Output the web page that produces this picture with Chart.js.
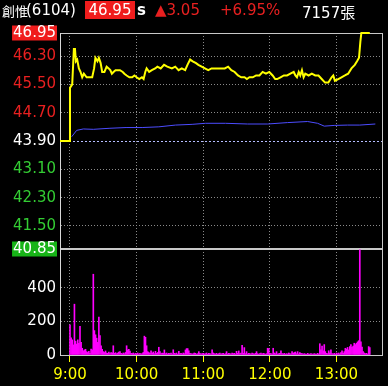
<!DOCTYPE html>
<html>
<head>
<meta charset="utf-8">
<script src="https://cdn.jsdelivr.net/npm/chart.js@4"></script>
<style>
    html, body { margin: 0; padding: 0; background: #000; }
    #wrap { position: relative; width: 388px; height: 386px; overflow: hidden; }
    #c { position: absolute; left: 0; top: 0; }
    #head span {
        position: absolute; top: 1px; height: 18px; line-height: 18px;
        font: 15px "DejaVu Sans", "Noto Sans CJK TC", sans-serif;
        white-space: nowrap; color: #fff;
    }
    #head .cjk { font-family: "Noto Sans CJK TC", sans-serif; font-size: 13px; }
    #head .box { background: #f01c1c; width: 50px; text-align: center; }
    #head .red { color: #e82020; }
</style>
</head>
<body>
<div id="wrap">
    <canvas id="c" width="388" height="386"></canvas>
    <div id="head">
        <span class="cjk" style="left:2px">創惟</span>
        <span style="left:26px">(6104)</span>
        <span class="box" style="left:85px">46.95</span>
        <span style="left:137px;font-weight:bold">s</span>
        <span class="red" style="left:155px">▲3.05</span>
        <span class="red" style="left:220px">+6.95%</span>
        <span style="left:302px">7157張</span>
    </div>
</div>
<script>
// ejes
const priceTicks = [46.95, 46.30, 45.50, 44.70, 43.90, 43.10, 42.30, 41.50, 40.85];
const volumeTicks = [0, 200, 400];
const hourTicks = [0, 60, 120, 180, 240];
const hourLabels = ['9:00', '10:00', '11:00', '12:00', '13:00'];
const prevClose = 43.90;

// precio (minutos desde las 9:00)
const priceTimes = [-9, 0, 0, 2, 3.5, 4.5, 5.3, 6.5, 8, 9.5, 11, 12.5, 15, 18, 20, 21.7, 22.9, 24.7, 26, 27.6,
    29, 31, 33, 34.8, 36.3, 37.7, 39.2, 41, 43, 45, 47.5, 49, 51, 53.5, 56, 58, 60, 62.4, 64.8, 66.3,
    67.8, 69, 71.3, 73.7, 76.7, 78.7, 81.7, 84.7, 87.6, 91.8, 94.8, 97.8, 100.7, 103.7, 105.8, 108.2, 110.5, 113.5, 115.6, 118.6,
    121.5, 124.5, 127.5, 130.4, 133.4, 136.4, 139.4, 142.4, 145.3, 148.3, 151.3, 154.2, 157.2, 159.3, 161.6, 164.6, 167.6, 170.6, 173.5, 176.5,
    179.5, 182.5, 184.8, 186.6, 189.6, 192.6, 195.5, 198.5, 201.5, 203, 204.4, 206, 207.4, 208.9, 210.4, 211.9, 214.9, 217.8, 220.8, 223.8,
    226.7, 229.7, 232.7, 235.6, 237.1, 238.6, 241.6, 244.5, 247.6, 250.5, 253.5, 256.5, 258.5, 260.3, 261.5, 262.4, 270];
const prices = [43.90, 43.90, 45.40, 45.50, 46.50, 46.50, 46.15, 46.20, 45.95, 45.85, 45.70, 45.80, 45.70, 45.70, 45.70, 45.95, 46.25, 46.15, 46.25, 46.10,
    45.85, 45.85, 46.00, 45.95, 45.90, 45.80, 45.85, 45.90, 45.90, 45.90, 45.85, 45.80, 45.75, 45.70, 45.70, 45.75, 45.70, 45.65, 45.70, 45.65,
    45.85, 45.95, 45.85, 45.90, 45.95, 46.00, 45.95, 46.05, 46.00, 45.95, 46.00, 45.90, 45.95, 45.90, 46.05, 46.20, 46.15, 46.10, 46.05, 46.00,
    45.95, 45.90, 45.95, 45.95, 45.95, 45.95, 45.95, 46.00, 45.90, 45.85, 45.75, 45.70, 45.70, 45.65, 45.70, 45.70, 45.75, 45.75, 45.85, 45.80,
    45.85, 45.75, 45.65, 45.65, 45.70, 45.75, 45.75, 45.80, 45.85, 45.75, 45.70, 45.85, 45.75, 45.90, 45.70, 45.80, 45.75, 45.80, 45.75, 45.75,
    45.65, 45.55, 45.55, 45.70, 45.75, 45.60, 45.65, 45.70, 45.75, 45.80, 45.95, 46.05, 46.15, 46.25, 46.70, 46.95, 46.95];

// precio promedio
const avgTimes = [1.5, 6, 12, 21, 36, 50.5, 65, 80, 95, 110, 122, 140, 160, 178, 196, 214, 223, 229, 238, 250, 261, 275];
const avgPrices = [44.02, 44.20, 44.24, 44.23, 44.26, 44.28, 44.28, 44.30, 44.35, 44.37, 44.40, 44.40, 44.38, 44.38, 44.42, 44.45, 44.40, 44.32, 44.34, 44.35, 44.35, 44.38];

// volumen por minuto desde las 9:00
const volumes = [
    180, 102, 90, 60, 302, 82, 65, 90, 70, 171,
    75, 40, 25, 30, 34, 20, 15, 22, 10, 35,
    30, 480, 145, 120, 100, 75, 225, 115, 55, 34,
    20, 15, 24, 12, 10, 18, 8, 15, 12, 55,
    10, 14, 8, 12, 18, 20, 10, 6, 12, 8,
    15, 55, 30, 34, 24, 10, 8, 12, 6, 10,
    8, 12, 6, 10, 5, 8, 15, 112, 105, 55,
    20, 15, 10, 25, 12, 18, 8, 22, 10, 15,
    46, 20, 8, 12, 10, 30, 8, 12, 6, 10,
    8, 12, 6, 31, 10, 8, 12, 5, 22, 8,
    10, 6, 12, 8, 30, 38, 38, 25, 10, 8,
    6, 8, 12, 10, 5, 8, 20, 10, 6, 8,
    10, 6, 8, 12, 5, 10, 8, 6, 30, 12,
    8, 6, 10, 5, 8, 12, 6, 8, 10, 5,
    8, 20, 6, 10, 8, 5, 12, 8, 10, 6,
    22, 10, 24, 8, 12, 57, 10, 44, 8, 20,
    6, 10, 8, 5, 12, 8, 6, 10, 20, 8,
    5, 8, 12, 6, 10, 8, 5, 8, 40, 38,
    10, 8, 6, 40, 12, 8, 20, 6, 8, 10,
    25, 8, 6, 10, 5, 8, 6, 12, 8, 5,
    20, 10, 15, 18, 8, 20, 6, 15, 10, 8,
    5, 8, 6, 4, 10, 6, 5, 8, 6, 5,
    8, 6, 5, 10, 6, 67, 30, 53, 25, 62,
    20, 10, 8, 25, 12, 30, 8, 6, 10, 5,
    12, 8, 12, 6, 14, 25, 10, 20, 40, 35,
    45, 30, 50, 62, 45, 53, 70, 62, 70, 78,
    85, 625, 78, 47, 20, 12, 8, 10, 6, 50,
    44
];

const X_MIN = -9;
const X_MAX = 281;
const VOL_MAX = 630;

const fuente = { family: 'DejaVu Sans', size: 15, lineHeight: 1 };
const ROJO = '#e82020';
const VERDE = '#33cc33';
const GRIS = '#8a8a8a';

const key = v => Number(v).toFixed(2);
const esBorde = v => key(v) === key(priceTicks[0]) || key(v) === key(priceTicks[priceTicks.length - 1]);

function colorPrecio(v) {
    if (esBorde(v) || key(v) === key(prevClose)) return '#ffffff';
    return v > prevClose ? ROJO : VERDE;
}

function fondoPrecio(v) {
    if (key(v) === key(priceTicks[0])) return '#f01c1c';
    if (key(v) === key(priceTicks[priceTicks.length - 1])) return '#17b417';
    return 'rgba(0,0,0,0)';
}

const ancho60 = scale => { scale.width = 60; };

new Chart(document.getElementById('c'), {
    type: 'line',
    data: {
        datasets: [
            {
                label: 'precio',
                data: priceTimes.map((t, i) => ({ x: t, y: prices[i] })),
                borderColor: '#ffff00',
                borderWidth: 2,
                pointRadius: 0,
                tension: 0,
                clip: 3,
                yAxisID: 'y'
            },
            {
                label: 'promedio',
                data: avgTimes.map((t, i) => ({ x: t, y: avgPrices[i] })),
                borderColor: '#4c4cff',
                borderWidth: 1,
                pointRadius: 0,
                tension: 0,
                yAxisID: 'y'
            },
            {
                type: 'bar',
                label: 'volumen',
                data: volumes.map((v, i) => ({ x: i, y: v })),
                backgroundColor: '#ff00ff',
                barThickness: 1,
                yAxisID: 'yv'
            }
        ]
    },
    options: {
        responsive: false,
        animation: false,
        devicePixelRatio: 1,
        layout: { padding: { top: 33, right: 3, left: 0, bottom: 0 } },
        plugins: { legend: { display: false }, tooltip: { enabled: false } },
        scales: {
            x: {
                type: 'linear',
                min: X_MIN,
                max: X_MAX,
                offset: false,
                afterBuildTicks: scale => {
                    scale.ticks = hourTicks.concat([X_MAX]).map(v => ({ value: v }));
                },
                afterFit: scale => { scale.height = 31; },
                ticks: {
                    autoSkip: false,
                    maxRotation: 0,
                    padding: 6,
                    color: '#ffff00',
                    font: fuente,
                    callback: v => {
                        const i = hourTicks.indexOf(v);
                        return i >= 0 ? hourLabels[i] : '';
                    }
                },
                grid: {
                    offset: false,
                    color: ctx => (ctx.tick && ctx.tick.value === X_MAX) ? '#c8c8c8' : GRIS,
                    tickColor: ctx => (ctx.tick && ctx.tick.value === X_MAX) ? 'rgba(0,0,0,0)' : '#ffff00',
                    tickLength: 7
                },
                border: {
                    display: true,
                    color: '#c8c8c8',
                    width: 1,
                    dash: ctx => (ctx.tick && ctx.tick.value !== X_MAX) ? [1, 2] : []
                }
            },
            // el orden importa: el eje de volumen primero queda abajo
            yv: {
                type: 'linear',
                position: 'left',
                stack: 'panel',
                stackWeight: 106,
                min: 0,
                max: VOL_MAX,
                afterBuildTicks: scale => {
                    scale.ticks = volumeTicks.map(v => ({ value: v }));
                },
                afterFit: ancho60,
                ticks: {
                    autoSkip: false,
                    padding: 4,
                    font: fuente,
                    color: '#ffffff',
                    callback: v => String(v)
                },
                grid: {
                    drawTicks: false,
                    color: ctx => (ctx.tick && ctx.tick.value === 0) ? 'rgba(0,0,0,0)' : GRIS
                },
                border: {
                    display: true,
                    color: '#d8d8d8',
                    width: 1,
                    dash: [1, 2]
                }
            },
            y: {
                type: 'linear',
                position: 'left',
                stack: 'panel',
                stackWeight: 216,
                min: priceTicks[priceTicks.length - 1],
                max: priceTicks[0],
                afterBuildTicks: scale => {
                    scale.ticks = priceTicks.map(v => ({ value: v }));
                },
                afterFit: ancho60,
                ticks: {
                    autoSkip: false,
                    padding: 4,
                    font: fuente,
                    color: ctx => colorPrecio(ctx.tick.value),
                    showLabelBackdrop: true,
                    backdropColor: ctx => fondoPrecio(ctx.tick.value),
                    backdropPadding: { left: 1, right: 1, top: 0, bottom: 0 },
                    callback: v => Number(v).toFixed(2)
                },
                grid: {
                    drawTicks: false,
                    color: ctx => {
                        if (!ctx.tick) return GRIS;
                        const v = ctx.tick.value;
                        if (key(v) === key(prevClose)) return '#b4bcff';
                        if (esBorde(v)) return '#c8c8c8';
                        return GRIS;
                    },
                    lineWidth: ctx => (ctx.tick && key(ctx.tick.value) === key(priceTicks[priceTicks.length - 1])) ? 2 : 1
                },
                border: {
                    display: true,
                    color: '#d8d8d8',
                    width: 1,
                    dash: ctx => {
                        if (!ctx.tick) return [];
                        const v = ctx.tick.value;
                        if (esBorde(v)) return [];
                        if (key(v) === key(prevClose)) return [2, 2];
                        return [1, 2];
                    }
                }
            }
        }
    }
});
</script>
</body>
</html>
